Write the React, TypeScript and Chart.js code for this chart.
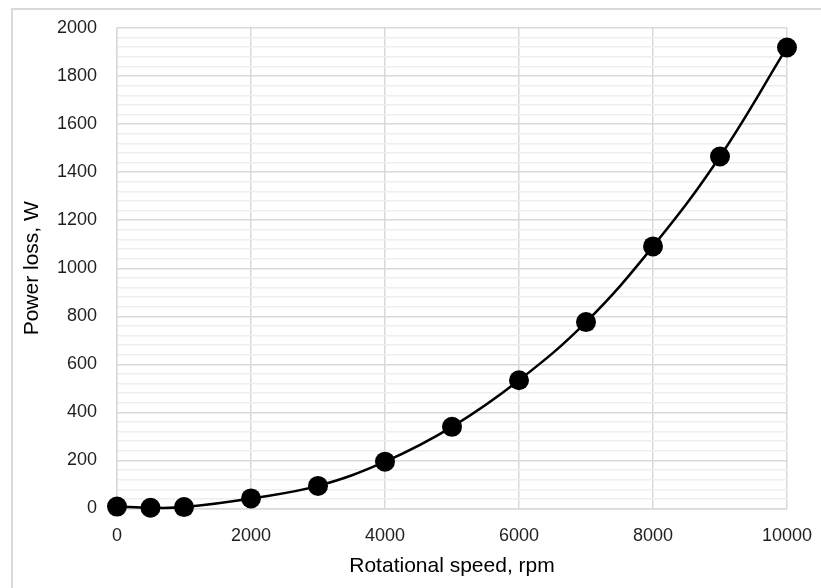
import React, { useEffect, useRef } from "react";
import { Chart, registerables } from "chart.js";

Chart.register(...registerables);

const speeds = [0, 500, 1000, 2000, 3000, 4000, 5000, 6000, 7000, 8000, 9000, 10000];
const powerLoss = [8, 3, 6, 42, 94, 195, 340, 534, 776, 1091, 1465, 1919];
const xTitle = "Rotational speed, rpm";
const yTitle = "Power loss, W";

const FONT = "'Liberation Sans', Arial, sans-serif";

const frame = {
  id: "frame",
  beforeDraw(chart: any) {
    const ctx = chart.ctx;
    ctx.save();
    ctx.fillStyle = "#ffffff";
    ctx.fillRect(0, 0, chart.width, chart.height);
    ctx.strokeStyle = "#d9d9d9";
    ctx.lineWidth = 2;
    ctx.beginPath();
    ctx.moveTo(12, chart.height + 2);
    ctx.lineTo(12, 9);
    ctx.lineTo(chart.width + 2, 9);
    ctx.stroke();
    ctx.restore();
  },
};

export default function App() {
  const ref = useRef<HTMLCanvasElement>(null);
  useEffect(() => {
    if (!ref.current) return;
    const chart = new Chart(ref.current, {
      type: "scatter",
      data: {
        datasets: [
          {
            data: speeds.map((x, i) => ({ x, y: powerLoss[i] })),
            showLine: true,
            tension: 0.4,
            borderColor: "#000000",
            borderWidth: 2.5,
            backgroundColor: "#000000",
            pointRadius: 10,
            pointBorderWidth: 0,
            clip: false,
          } as any,
        ],
      },
      options: {
        animation: false,
        responsive: false,
        devicePixelRatio: 1,
        layout: { padding: { left: 0, top: 28, right: 34, bottom: 0 } },
        plugins: { legend: { display: false }, tooltip: { enabled: false } },
        scales: {
          x: {
            type: "linear",
            min: 0,
            max: 10000,
            ticks: {
              stepSize: 2000,
              padding: 17,
              color: "#1f1f1f",
              font: { family: FONT, size: 18 },
              maxRotation: 0,
              callback: (v: any) => String(v),
            },
            grid: { color: "#d9d9d9", lineWidth: 1.5, drawTicks: false },
            border: { color: "#d9d9d9", width: 1.5 },
            title: {
              display: true,
              text: xTitle,
              color: "#000000",
              font: { family: FONT, size: 21 },
              padding: { top: 0, bottom: 9 },
            },
            afterFit: (s: any) => {
              s.height = 79.5;
              s.paddingLeft = 0;
              s.paddingRight = 0;
            },
          },
          y: {
            type: "linear",
            min: 0,
            max: 2000,
            ticks: {
              stepSize: 40,
              autoSkip: false,
              padding: 20,
              color: "#1f1f1f",
              font: { family: FONT, size: 18 },
              callback: (v: any) => (Math.round(v) % 200 === 0 ? String(v) : ""),
            },
            grid: {
              drawTicks: false,
              lineWidth: 1.5,
              color: (c: any) =>
                c.tick && Math.round(c.tick.value) % 200 === 0 ? "#d9d9d9" : "#eeeeee",
            },
            border: { color: "#d9d9d9", width: 1.5 },
            title: {
              display: true,
              text: yTitle,
              color: "#000000",
              font: { family: FONT, size: 21 },
              padding: { top: 20, bottom: 0 },
            },
            afterFit: (s: any) => {
              s.width = 117;
              s.paddingTop = 0;
              s.paddingBottom = 0;
            },
          },
        },
      },
      plugins: [frame],
    });
    return () => chart.destroy();
  }, []);
  return (
    <div style={{ position: "absolute", left: 0, top: 0, width: 821, height: 588, background: "#fff" }}>
      <canvas ref={ref} width={821} height={588} />
    </div>
  );
}
